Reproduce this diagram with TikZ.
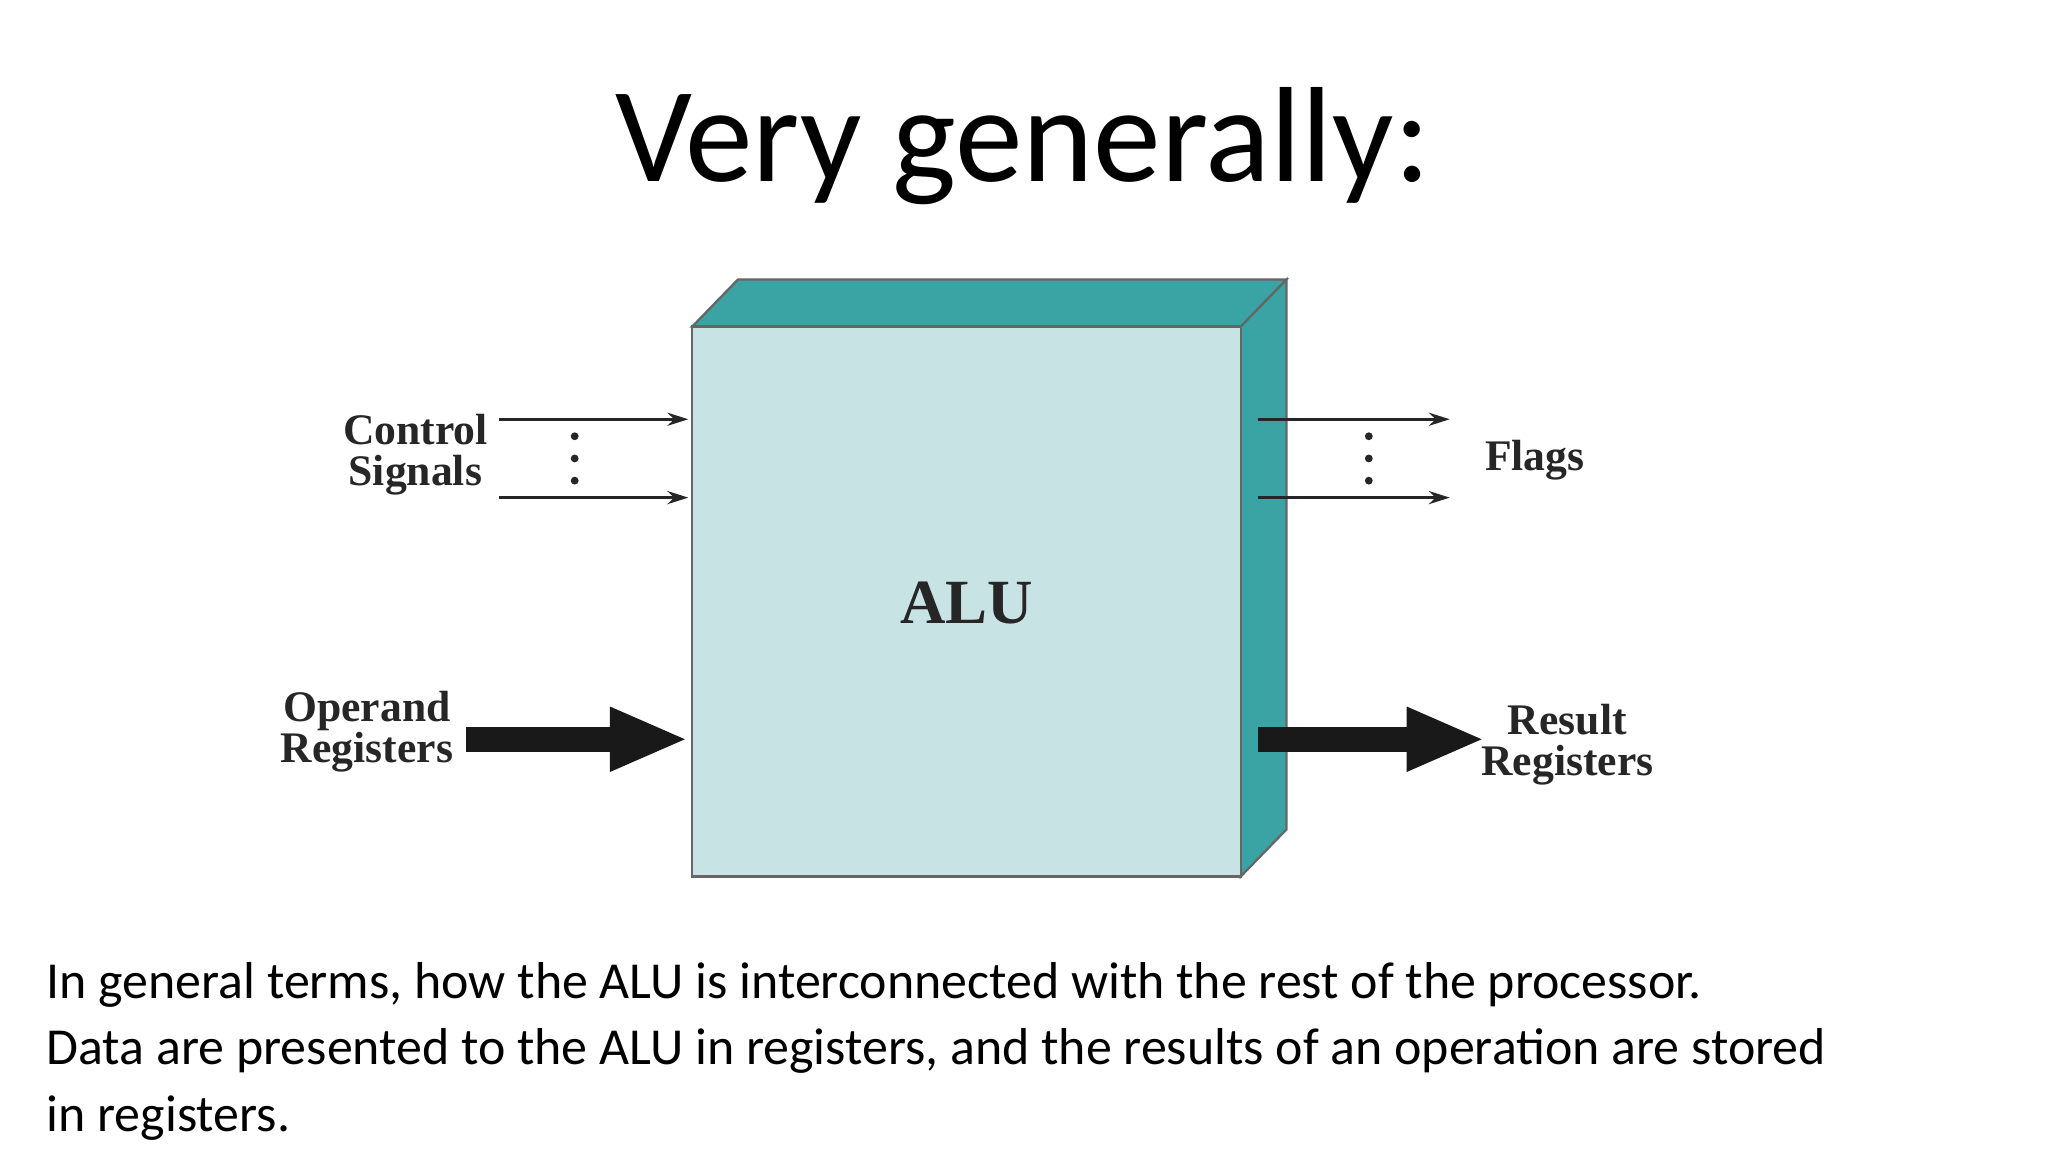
\documentclass[tikz,border=0pt]{standalone}
\usepackage{fontspec}
\setmainfont{Carlito}
\newfontfamily\lbl{Liberation Serif}
\usetikzlibrary{arrows.meta}
\definecolor{front}{HTML}{C8E3E4}
\definecolor{side}{HTML}{3AA3A3}
\tikzset{
  lab/.style={font=\lbl\bfseries\fontsize{9.5}{11}\selectfont, text=black!85, align=center},
  thin/.style={-{Stealth[length=0.16cm,width=0.1cm]}, line width=0.6pt, black!85},
  thick/.style={-{Triangle[length=0.6cm,width=0.45cm]}, line width=0.19cm, black!90},
  dot/.style={circle, fill=black!85, inner sep=0pt, minimum size=0.06cm}
}
\begin{document}
\begin{tikzpicture}[x=0.01cm,y=-0.01cm]
\useasboundingbox (0,0) rectangle (1568,882);
% title
\node[font=\fontsize{29.5}{34}\selectfont] (title) at (783,112) {Very generally:};
% box
\fill[side, draw=black!60, line width=0.5pt] (530,250) -- (565,214) -- (985,214) -- (950,250) -- cycle;
\fill[side, draw=black!60, line width=0.5pt] (950,250) -- (985,214) -- (985,635) -- (950,671) -- cycle;
\node[draw=black!60, line width=0.5pt, fill=front, minimum width=4.2cm, minimum height=4.21cm, inner sep=0pt]
  (alu) at (740,460.5) {};
\node[lab, font=\lbl\bfseries\fontsize{13.7}{16}\selectfont] (alut) at (740,462) {ALU};
% labels
\node[lab] (ctrl) at (318,348) {Control\\[-2pt]Signals};
\node[lab] (flags) at (1175,352) {Flags};
\node[lab] (oper) at (281,560) {Operand\\[-2pt]Registers};
\node[lab] (res) at (1200,570) {Result\\[-2pt]Registers};
% arrow end points
\coordinate (c1s) at (382,321); \coordinate (c1e) at (527,321);
\coordinate (c2s) at (382,381); \coordinate (c2e) at (527,381);
\coordinate (f1s) at (963,321); \coordinate (f1e) at (1110,321);
\coordinate (f2s) at (963,381); \coordinate (f2e) at (1110,381);
\coordinate (os) at (357,566); \coordinate (oe) at (527,566);
\coordinate (rs) at (963,566); \coordinate (re) at (1137,566);
\draw[thin] (c1s) -- (c1e);
\draw[thin] (c2s) -- (c2e);
\draw[thin] (f1s) -- (f1e);
\draw[thin] (f2s) -- (f2e);
\draw[thick] (os) -- (oe);
\draw[thick] (rs) -- (re);
\foreach \y [count=\i] in {334,351,368} {
  \node[dot] (dl\i) at (440,\y) {};
  \node[dot] (dr\i) at (1048,\y) {};
}
% caption
\node[anchor=north west, align=left, font=\fontsize{11.3}{14.5}\selectfont, inner sep=0pt] (cap) at (35,736)
  {In general terms, how the ALU is interconnected with the rest of the processor.\\
   Data are presented to the ALU in registers, and the results of an operation are stored\\
   in registers.};
\end{tikzpicture}
\end{document}
